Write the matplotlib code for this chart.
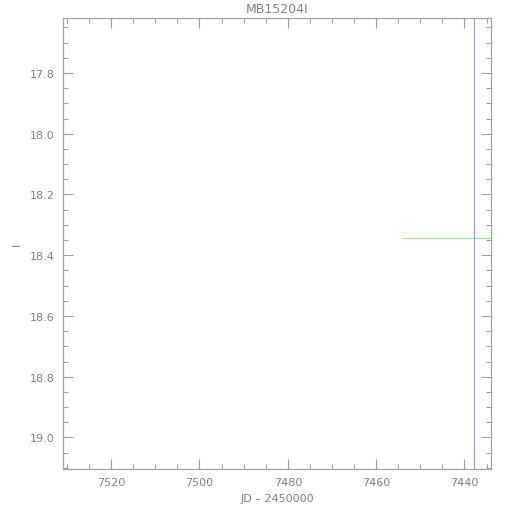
import matplotlib
matplotlib.use("Agg")
import matplotlib.pyplot as plt
from matplotlib.ticker import MultipleLocator

# --- Data ---
title = "MB15204I"
x_label = "JD - 2450000"
y_label = "I"

# baseline segment (green) and its faint companion
base_jd = [7454.0, 7434.0]
base_mag = [18.344, 18.344]
band_jd = [7454.0, 7434.0]
band_mag = [18.325, 18.325]

# vertical marker (blue)
marker_jd = 7437.8

x_lim = (7530.9, 7434.0)
y_lim = (19.104, 17.619)

axis_gray = "#a0a0a0"
text_gray = "#808080"

fig = plt.figure(figsize=(5.1, 5.1), dpi=100)
ax = fig.add_axes([0.1235, 0.0784, 0.8392, 0.8843])

ax.plot(band_jd, band_mag, color="#f2f5e0", lw=0.8)
ax.plot(base_jd, base_mag, color="#90e890", lw=0.8)
ax.axvline(marker_jd, color="#9a9aff", lw=0.9)

ax.set_xlim(*x_lim)
ax.set_ylim(*y_lim)

ax.xaxis.set_major_locator(MultipleLocator(20))
ax.xaxis.set_minor_locator(MultipleLocator(5))
ax.yaxis.set_major_locator(MultipleLocator(0.2))
ax.yaxis.set_minor_locator(MultipleLocator(0.05))
ax.yaxis.set_major_formatter(plt.FormatStrFormatter("%.1f"))

ax.tick_params(which="both", direction="in", top=True, right=True,
               color=axis_gray, labelcolor=text_gray, labelsize=8, pad=6)
ax.tick_params(which="major", length=7, width=0.8)
ax.tick_params(which="minor", length=3.5, width=0.8)
for s in ax.spines.values():
    s.set_color(axis_gray)
    s.set_linewidth(0.9)

ax.set_title(title, color=text_gray, fontsize=9, pad=4)
ax.set_xlabel(x_label.replace("-", "\u2013"), color=text_gray, fontsize=8)
ax.set_ylabel(y_label, color=text_gray, fontsize=8, labelpad=6)

fig.savefig("out.png", dpi=100)
